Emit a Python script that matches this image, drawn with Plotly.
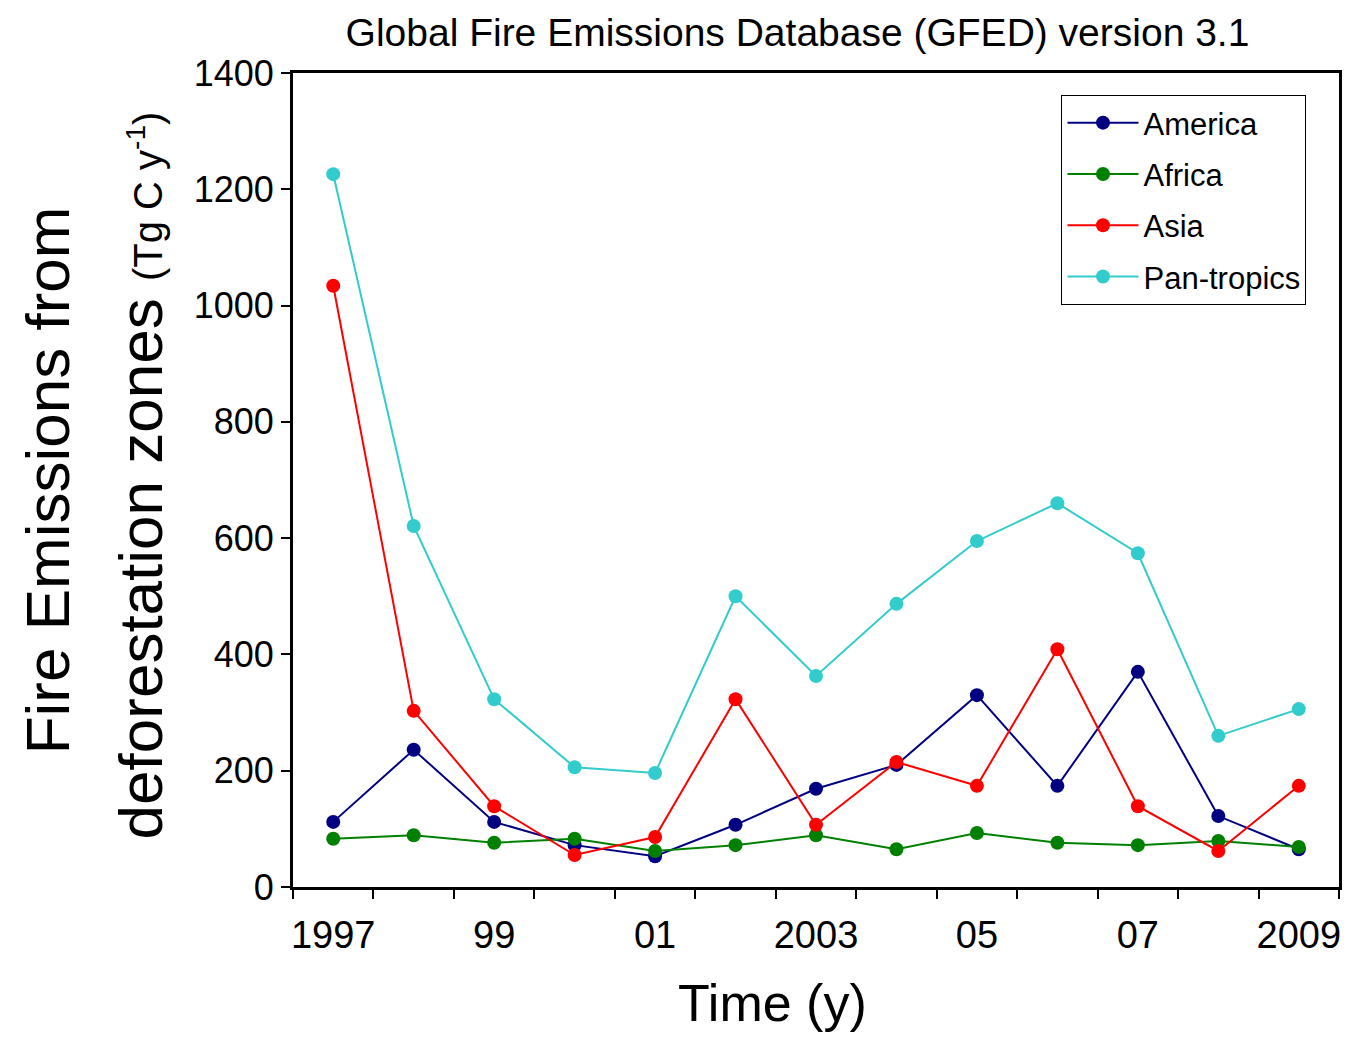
import plotly.graph_objects as go

years = [1997, 1998, 1999, 2000, 2001, 2002, 2003, 2004, 2005, 2006, 2007, 2008, 2009]
america = [112, 236, 112, 72, 53, 107, 169, 210, 330, 174, 370, 122, 65]
africa = [83, 89, 76, 83, 62, 72, 89, 65, 93, 76, 72, 79, 69]
asia = [1034, 303, 139, 55, 86, 323, 107, 215, 174, 409, 139, 62, 174]
pantropics = [1226, 621, 323, 206, 196, 500, 363, 487, 595, 660, 574, 260, 306]

series_names = ["America", "Africa", "Asia", "Pan-tropics"]
series_colors = ["#000080", "#008000", "#FF0000", "#33CCCC"]
series_values = [america, africa, asia, pantropics]

x_tickvals = [1997, 1999, 2001, 2003, 2005, 2007, 2009]
x_ticktext = ["1997", "99", "01", "2003", "05", "07", "2009"]
y_tickvals = [0, 200, 400, 600, 800, 1000, 1200, 1400]

FONT = "Liberation Sans, Arial, sans-serif"

fig = go.Figure()
for name, color, vals in zip(series_names, series_colors, series_values):
    fig.add_trace(go.Scatter(
        x=years, y=vals, name=name, mode="lines+markers", legendgroup=name,
        line=dict(color=color, width=2),
        marker=dict(color=color, size=14, line=dict(width=0)),
    ))

fig.update_layout(
    width=1354, height=1040,
    margin=dict(l=293, r=13, t=73, b=153),
    paper_bgcolor="white", plot_bgcolor="white",
    font=dict(family=FONT, color="black"),
    title=dict(text="Global Fire Emissions Database (GFED) version 3.1",
               x=0.589, xanchor="center", y=0.969, yanchor="middle",
               font=dict(size=39, family=FONT)),
    showlegend=True,
    legend=dict(x=0.7347, y=0.973, xanchor="left", yanchor="top",
                bordercolor="black", borderwidth=1, bgcolor="white",
                font=dict(size=31, family=FONT), itemwidth=71,
                tracegroupgap=8),
    xaxis=dict(
        range=[1996.5, 2009.5], tickmode="array",
        tickvals=x_tickvals, ticktext=x_ticktext,
        ticks="outside", ticklen=0, tickfont=dict(size=38, family=FONT),
        ticklabelstandoff=12,
        minor=dict(tick0=1996.5, dtick=1, ticks="outside", ticklen=9,
                   tickwidth=2, tickcolor="black", showgrid=False),
        showline=True, linecolor="black", linewidth=3, mirror=True,
        showgrid=False, zeroline=False,
    ),
    yaxis=dict(
        range=[0, 1400], tickmode="array", tickvals=y_tickvals,
        ticks="outside", ticklen=9, tickwidth=2, tickcolor="black",
        tickfont=dict(size=36, family=FONT),
        showline=True, linecolor="black", linewidth=3, mirror=True,
        showgrid=False, zeroline=False,
    ),
    annotations=[
        dict(text="Time (y)", showarrow=False,
             xref="paper", yref="paper", x=0.458, y=-0.1425,
             xanchor="center", yanchor="middle",
             font=dict(size=52, family=FONT)),
        dict(text="Fire Emissions from", textangle=-90, showarrow=False,
             xref="paper", yref="paper", x=-0.2347, y=0.499,
             xanchor="center", yanchor="middle",
             font=dict(size=62, family=FONT)),
        dict(text="deforestation zones <span style='font-size:40px'>(Tg C y<sup>-1</sup>)</span>",
             textangle=-90, showarrow=False,
             xref="paper", yref="paper", x=-0.146, y=0.506,
             xanchor="center", yanchor="middle",
             font=dict(size=62, family=FONT)),
    ],
)

fig.write_html("out.html")
